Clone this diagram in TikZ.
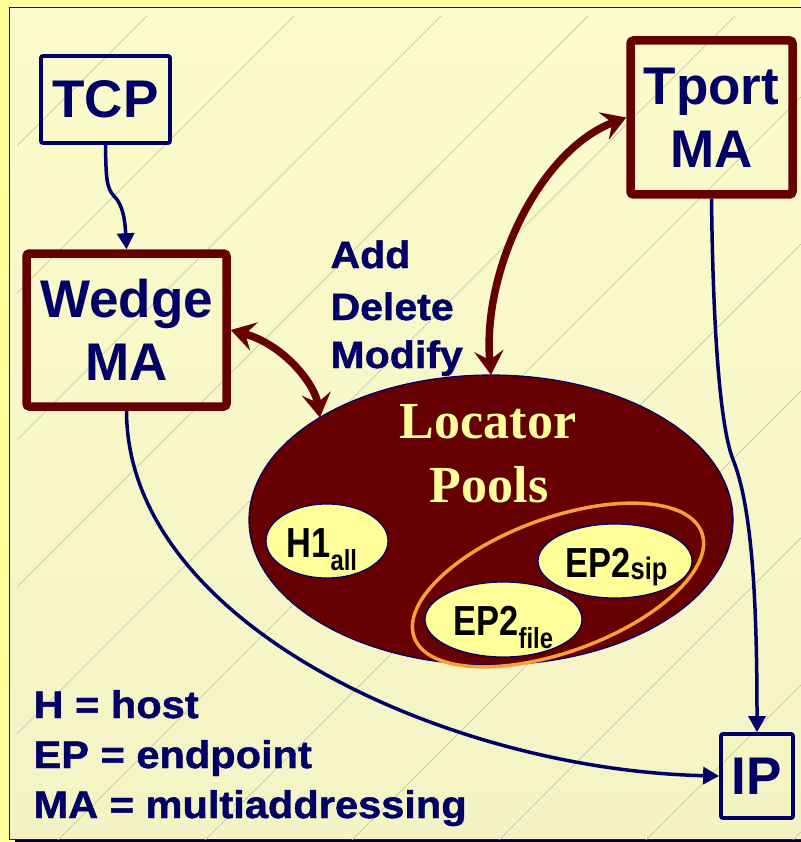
\documentclass[tikz,border=0pt]{standalone}
\usepackage{fontspec}
\setmainfont{Liberation Sans}
\newfontfamily\narrowf[FakeStretch=0.82]{Liberation Sans}
\newfontfamily\widef[FakeStretch=1.08,FakeBold=1.2]{Liberation Sans}
\newfontfamily\serifbf{Liberation Serif}
\usetikzlibrary{arrows.meta,shapes.geometric,calc}
\definecolor{navy}{HTML}{000066}
\definecolor{dred}{HTML}{660000}
\definecolor{pale}{HTML}{FFFF99}
\definecolor{paneltop}{HTML}{FBFBCC}
\definecolor{panelbot}{HTML}{F3F3C5}
\definecolor{hatch}{HTML}{BDBDA8}
\definecolor{orng}{HTML}{F7A035}
\begin{document}
\begin{tikzpicture}[x=1pt,y=-1pt,
  navybox/.style={draw=navy,line width=3.8pt,rounded corners=2pt,inner sep=0pt,text=navy,
    font=\fontsize{53}{63}\selectfont\bfseries,align=center},
  redbox/.style={draw=dred,line width=8.5pt,rounded corners=3pt,inner sep=0pt,text=navy,
    font=\fontsize{53}{63}\selectfont\bfseries,align=center},
  pool/.style={ellipse,draw=navy,line width=1.2pt,fill=pale,inner sep=0pt},
  navyarrow/.style={draw=navy,line width=3.5pt,-{Triangle[length=16pt,width=17pt]}},
  redarrow/.style={draw=dred,line width=7.5pt,
    {Stealth[length=24pt,width=29pt,inset=9pt]}-{Stealth[length=24pt,width=29pt,inset=9pt]}},
  lbl/.style={anchor=base west,text=navy,font=\widef\bfseries\fontsize{38}{38}\selectfont},
  legend/.style={anchor=base west,text=navy,font=\widef\bfseries\fontsize{38.5}{38}\selectfont},
  subfont/.style={anchor=base west,text=black,font=\narrowf\bfseries\fontsize{42}{42}\selectfont},
  pooltitle/.style={anchor=base,text=pale,font=\serifbf\bfseries\fontsize{52}{52}\selectfont},
]
% background
\fill[pale] (0,0) rectangle (800,842);
\useasboundingbox (0,0) rectangle (800,842);
\fill[navy!70!black] (15,12) rectangle (806,842);
\shade[top color=paneltop,bottom color=panelbot] (9,7) rectangle (806,839);
\draw[dred,line width=0.8pt] (9,7) rectangle (806,839);
\begin{scope}
  \clip (17,17) rectangle (806,839);
  \foreach \k in {0,...,10} {
    \pgfmathsetmacro\c{163+147*\k}
    \draw[hatch,line width=0.6pt] (\c-900,900) -- (\c+50,-50);
  }
\end{scope}

% boxes
\node[navybox,minimum width=129pt,minimum height=87pt] (tcp) at (105.5,99.5) {TCP};
\node[redbox,minimum width=200pt,minimum height=153pt] (wedge) at (126.5,330) {Wedge\\MA};
\node[redbox,minimum width=162pt,minimum height=154pt] (tport) at (711.5,117.5) {Tport\\MA};
\node[navybox,minimum width=72pt,minimum height=84pt] (ip) at (757,776) {IP};

% locator pools
\node[ellipse,draw=navy,line width=1.2pt,fill=dred,minimum width=484pt,minimum height=290pt,
  inner sep=0pt,outer sep=0pt] (loc) at (491,520) {};
\node[pooltitle] (loct) at (488,438) {Locator};
\node[pooltitle] (poolt) at (489,502) {Pools};

\node[ellipse,draw=orng,line width=3.5pt,minimum width=306pt,minimum height=134pt,
  inner sep=0pt,rotate=20] (grp) at (558,585) {};
\node[pool,minimum width=122pt,minimum height=74pt] (h1) at (327,541) {};
\node[pool,minimum width=154pt,minimum height=74pt] (sip) at (615,561) {};
\node[pool,minimum width=157pt,minimum height=75pt] (file) at (503.5,619.5) {};

\node[subfont] (h1t) at (283,557) {H1\raisebox{-13pt}{\fontsize{29}{29}\selectfont all}};
\node[subfont] (sipt) at (562,577) {EP2\raisebox{-2pt}{\fontsize{31}{31}\selectfont sip}};
\node[subfont] (filet) at (450,635) {EP2\raisebox{-13pt}{\fontsize{29}{29}\selectfont file}};

% labels
\node[lbl] (add) at (327,268) {Add};
\node[lbl] (del) at (327,320) {Delete};
\node[lbl] (mod) at (327,368) {Modify};
\node[legend] (lh) at (30,718) {H = host};
\node[legend] (lep) at (30,768) {EP = endpoint};
\node[legend] (lma) at (30,818) {MA = multiaddressing};

% connectors
\coordinate (tw) at (114,196);
\draw[navyarrow] (tcp.south) .. controls (106,175) and (106,188) .. (tw)
  .. controls (123,205) and (125,220) .. (wedge.north);
\coordinate (tk) at (734,462);
\draw[navyarrow] (tport.south) .. controls (713,330) and (720,430) .. (tk)
  .. controls (752,510) and (757,600) .. (ip.north);
\draw[navyarrow] (wedge.south) .. controls (127,625) and (450,770) .. (ip.west);
\draw[redarrow] (wedge.east) .. controls (285,345) and (315,385) .. (loc.north west);
\draw[redarrow] (tport.west) .. controls (540,150) and (482,270) .. (loc.north);
\end{tikzpicture}
\end{document}
